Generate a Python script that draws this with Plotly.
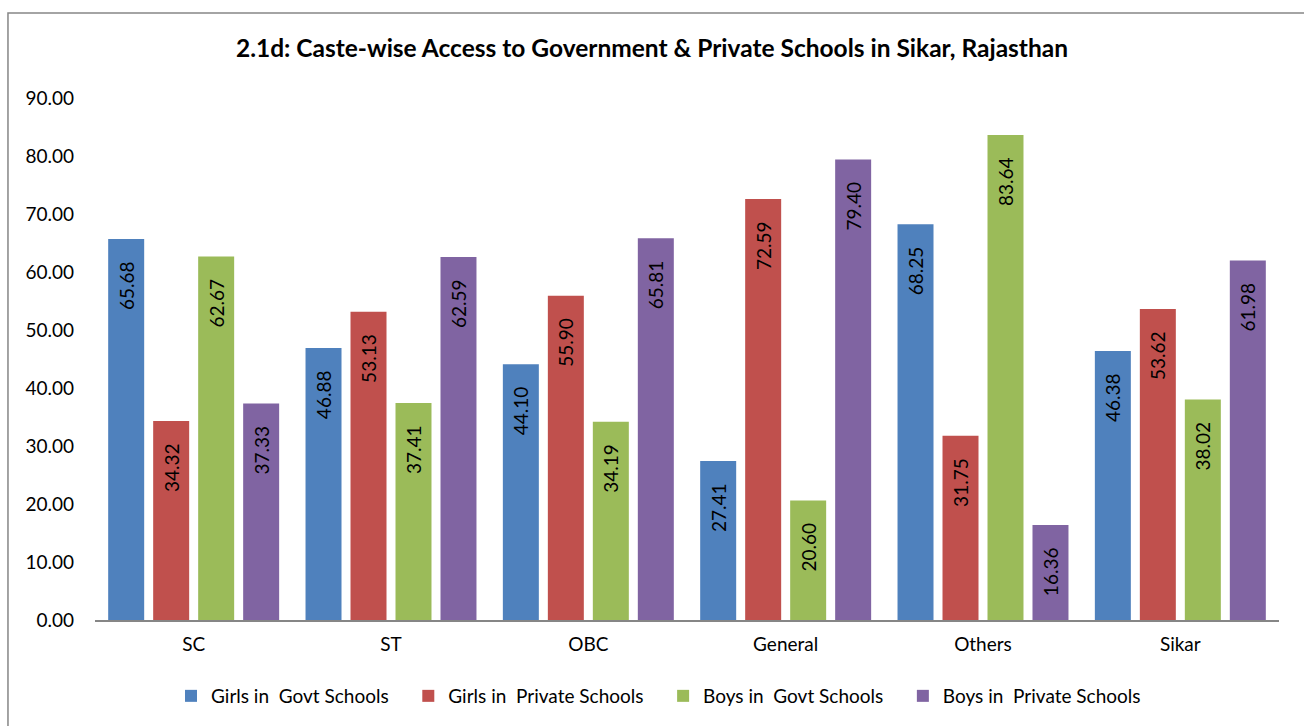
import plotly.graph_objects as go

categories = ["SC", "ST", "OBC", "General", "Others", "Sikar"]
girls_govt = [65.68, 46.88, 44.10, 27.41, 68.25, 46.38]
girls_private = [34.32, 53.13, 55.90, 72.59, 31.75, 53.62]
boys_govt = [62.67, 37.41, 34.19, 20.60, 83.64, 38.02]
boys_private = [37.33, 62.59, 65.81, 79.40, 16.36, 61.98]

series = [
    ("Girls in\u00a0 Govt Schools", girls_govt, "#4F81BD"),
    ("Girls in\u00a0 Private Schools", girls_private, "#C0504D"),
    ("Boys in\u00a0 Govt Schools", boys_govt, "#9BBB59"),
    ("Boys in\u00a0 Private Schools", boys_private, "#8064A2"),
]

FONT = "Lato, Calibri, Carlito, sans-serif"
pad = "\u00a0" * 4
legend_gap = "\u00a0" * 3

fig = go.Figure()
for i, (name, vals, color) in enumerate(series):
    fig.add_trace(go.Bar(
        x=categories,
        y=vals,
        name=name + (legend_gap if i < len(series) - 1 else ""),
        marker=dict(color=color, line=dict(width=0)),
        text=[f"{v:.2f}" + pad for v in vals],
        textposition="inside",
        insidetextanchor="end",
        textangle=-90,
        textfont=dict(family=FONT, size=19, color="#000000"),
        constraintext="none",
        cliponaxis=False,
        hoverinfo="skip",
    ))

# chart frame
fig.add_shape(type="rect", xref="paper", yref="paper",
              x0=-0.0735, x1=1.2, y0=-0.5, y1=1.1628,
              line=dict(color="#868686", width=1.5), fillcolor="rgba(0,0,0,0)",
              layer="below")

fig.update_layout(
    width=1304, height=726,
    margin=dict(l=95, r=25, t=98, b=106),
    paper_bgcolor="white", plot_bgcolor="white",
    barmode="group", bargap=0.088, bargroupgap=0.2,
    font=dict(family=FONT, size=19, color="#000000"),
    title=dict(
        text="<b>2.1d: Caste-wise Access to Government & Private Schools in Sikar, Rajasthan</b>",
        x=0.5, xref="container", xanchor="center",
        y=1 - 48 / 726, yref="container", yanchor="middle",
        font=dict(family=FONT, size=24.5, color="#000000"),
    ),
    showlegend=True,
    legend=dict(
        orientation="h", x=0.505, xanchor="center", xref="container",
        y=1 - 696 / 726, yref="container", yanchor="middle",
        font=dict(family=FONT, size=19, color="#000000"),
        itemwidth=30, tracegroupgap=0,
    ),
    xaxis=dict(
        showline=True, linecolor="#868686", linewidth=1.5,
        showgrid=False, ticks="", tickfont=dict(family=FONT, size=19),
        ticklabelstandoff=6,
    ),
    yaxis=dict(
        range=[0, 90], dtick=10, tickformat=".2f",
        showline=False, showgrid=False, zeroline=False, ticks="",
        tickfont=dict(family=FONT, size=19),
        ticklabelstandoff=20,
    ),
)

fig.write_html("out.html")
